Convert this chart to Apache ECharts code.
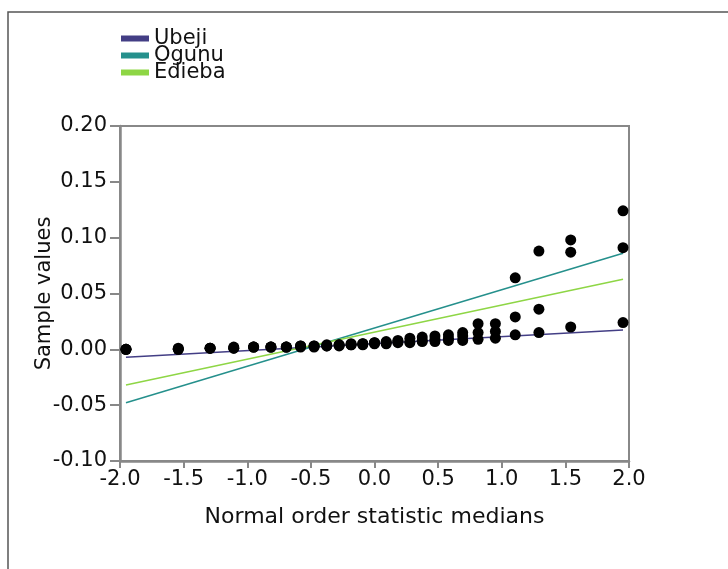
<!DOCTYPE html>
<html>
<head>
<meta charset="utf-8">
<script src="https://cdn.jsdelivr.net/npm/echarts@6/dist/echarts.min.js"></script>
<style>
  html, body { margin: 0; padding: 0; background: #fff; }
  #chart { width: 728px; height: 569px; }
</style>
</head>
<body>
<div id="chart"></div>
<script>
// normal order statistic medians (x positions)
const medians = [-1.953, -1.542, -1.292, -1.106, -0.950, -0.814, -0.693, -0.581, -0.475,
  -0.375, -0.278, -0.184, -0.092, 0, 0.092, 0.184, 0.278, 0.375, 0.475,
  0.581, 0.693, 0.814, 0.950, 1.106, 1.292, 1.542, 1.953];

const ubeji = [0.000, 0.000, 0.001, 0.001, 0.002, 0.002, 0.002, 0.002, 0.002,
  0.003, 0.003, 0.004, 0.004, 0.005, 0.005, 0.006, 0.006, 0.007, 0.007,
  0.008, 0.008, 0.009, 0.010, 0.013, 0.015, 0.020, 0.024];
const ogunu = [0.000, 0.001, 0.001, 0.002, 0.002, 0.002, 0.002, 0.003, 0.003,
  0.004, 0.004, 0.005, 0.005, 0.006, 0.007, 0.008, 0.010, 0.011, 0.012,
  0.013, 0.015, 0.023, 0.023, 0.064, 0.088, 0.098, 0.124];
const edieba = [0.000, 0.000, 0.001, 0.001, 0.002, 0.002, 0.002, 0.003, 0.003,
  0.003, 0.004, 0.004, 0.005, 0.006, 0.006, 0.007, 0.007, 0.008, 0.009,
  0.010, 0.012, 0.015, 0.016, 0.029, 0.036, 0.087, 0.091];

// reference lines (end points)
const lineX = [-1.953, 1.953];
const ubejiLine = [-0.0072, 0.0173];
const ogunuLine = [-0.0478, 0.086];
const ediebaLine = [-0.032, 0.0627];

const names = ['Ubeji', 'Ogunu', 'Edieba'];
const colors = ['#433e85', '#25908c', '#8ed645'];

const pair = (xs, ys) => xs.map((x, i) => [x, ys[i]]);
const FONT = 'DejaVu Sans';
const TXT = '#111';

const chart = echarts.init(document.getElementById('chart'));

const lineSeries = [ubejiLine, ogunuLine, ediebaLine].map((ys, i) => ({
  name: names[i],
  type: 'line',
  data: pair(lineX, ys),
  showSymbol: false,
  symbol: 'none',
  lineStyle: { color: colors[i], width: 1.5 },
  itemStyle: { color: colors[i] },
  z: 3,
  silent: true
}));

const dotSeries = [ubeji, ogunu, edieba].map((ys, i) => ({
  name: names[i] + ' points',
  type: 'scatter',
  data: pair(medians, ys),
  symbolSize: 11,
  itemStyle: { color: '#000', opacity: 1 },
  z: 4,
  silent: true
}));

chart.setOption({
  animation: false,
  backgroundColor: '#fff',
  textStyle: { fontFamily: FONT },
  graphic: [{
    type: 'polyline',
    shape: { points: [[8, 569], [8, 12], [728, 12]] },
    style: { stroke: '#555', lineWidth: 1.5, fill: null }
  }],
  legend: {
    data: names,
    orient: 'vertical',
    left: 116,
    top: 23,
    icon: 'rect',
    itemWidth: 28,
    itemHeight: 6,
    itemGap: -4,
    textStyle: { fontFamily: FONT, fontSize: 21, color: TXT }
  },
  grid: {
    left: 120, top: 126, right: 99, bottom: 108,
    show: true, borderColor: '#888', borderWidth: 2
  },
  xAxis: {
    type: 'value',
    min: -2, max: 2, interval: 0.5,
    name: 'Normal order statistic medians',
    nameLocation: 'middle',
    nameGap: 45,
    nameTextStyle: { fontFamily: FONT, fontSize: 22, color: TXT },
    axisLine: { onZero: false, lineStyle: { color: '#888', width: 2.5 } },
    axisTick: { show: true, inside: false, length: 7, lineStyle: { color: '#888', width: 2 } },
    axisLabel: { fontFamily: FONT, fontSize: 21, color: TXT, margin: 8, formatter: v => v.toFixed(1) },
    splitLine: { show: false }
  },
  yAxis: {
    type: 'value',
    min: -0.1, max: 0.2, interval: 0.05,
    name: 'Sample values',
    nameLocation: 'middle',
    nameGap: 65,
    nameMoveOverlap: false,
    nameTextStyle: { fontFamily: FONT, fontSize: 21, color: TXT },
    axisLine: { onZero: false, lineStyle: { color: '#888', width: 2.5 } },
    axisTick: { show: true, inside: false, length: 10, lineStyle: { color: '#888', width: 2 } },
    axisLabel: { fontFamily: FONT, fontSize: 21, color: TXT, margin: 13, formatter: v => v.toFixed(2) },
    splitLine: { show: false }
  },
  series: lineSeries.concat(dotSeries)
});
</script>
</body>
</html>
